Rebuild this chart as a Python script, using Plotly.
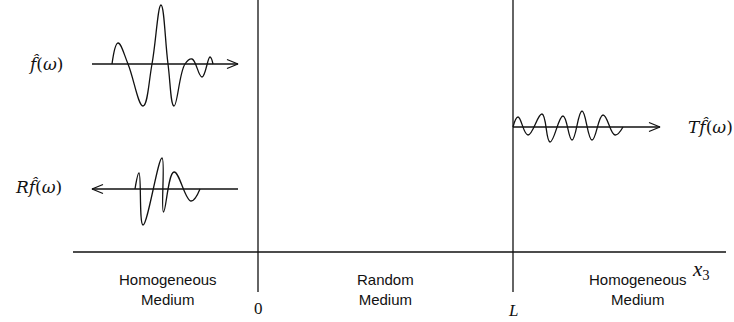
import plotly.graph_objects as go

# Pulse shapes: offset along the propagation line (px) and signed amplitude (px, up = +)
incident_t = [0, 6, 16, 31, 40, 49, 56, 62, 73, 80, 90, 98, 101]
incident_a = [0, 21, 0, -42, 0, 59, 0, -42, 0, 5, -13, 7, 0]

reflected_t = [0, 4, 8, 27, 28.5, 39, 56, 65]
reflected_a = [0, 16, -36, 31, -23, 17, -12, 0]

transmitted_t = [0, 5, 15, 29, 37, 50, 59, 69, 79, 90, 102, 110]
transmitted_a = [0, 10, -8, 13, -15, 11, -13, 16, -13, 12, -8, 0]

region_names = ["Homogeneous<br>Medium", "Random<br>Medium", "Homogeneous<br>Medium"]
interface_labels = ["0", "<i>L</i>"]
signal_labels = ["<i>f̂</i>(<i>ω</i>)", "<i>Rf̂</i>(<i>ω</i>)", "<i>Tf̂</i>(<i>ω</i>)"]
axis_label = "<i>x</i><sub>3</sub>"

# ---- layout geometry (pixel-like canvas units) ----
W, H = 734, 322
INK = "#111111"
LW = 1.3
AXIS_Y, AXIS_X0, AXIS_X1 = 252, 73, 726
INTERFACE_X = [258, 513]
INTERFACE_BOTTOM = 292
HEAD_LEN, HEAD_HALF = 11, 4.5

# (pulse start x, baseline y, arrow tail x, arrow tip x)
rays = [
    (112, 64, 92, 238),
    (135, 189, 238, 92),
    (513, 127, 513, 660),
]
pulses = [(incident_t, incident_a), (reflected_t, reflected_a), (transmitted_t, transmitted_a)]
signal_pos = [(45, 64), (38, 187), (710, 127)]
region_x = [168, 385, 638]
region_y = 289
interface_label_y = [308, 310]

SERIF = "Liberation Serif"
MATH = "DejaVu Serif"
SANS = "Liberation Sans"


def ink_line(xs, ys, **extra):
    return go.Scatter(x=xs, y=ys, mode="lines", hoverinfo="skip",
                      line=dict(color=INK, width=LW, **extra))


fig = go.Figure()

# propagation axis and the two interfaces
fig.add_trace(ink_line([AXIS_X0, AXIS_X1], [AXIS_Y, AXIS_Y]))
for xi in INTERFACE_X:
    fig.add_trace(ink_line([xi, xi], [0, INTERFACE_BOTTOM]))

for (x0, base, tail, tip), (ts, amps) in zip(rays, pulses):
    # ray with an open chevron head at its tip
    direction = 1 if tip > tail else -1
    back = tip - direction * HEAD_LEN
    fig.add_trace(ink_line([tail, tip], [base, base]))
    fig.add_trace(ink_line([back, tip, back],
                           [base - HEAD_HALF, base, base + HEAD_HALF]))
    # pulse riding on the ray
    fig.add_trace(ink_line([x0 + t for t in ts], [base - a for a in amps],
                           shape="spline", smoothing=1.2))

annotations = []
for txt, (sx, sy) in zip(signal_labels, signal_pos):
    annotations.append(dict(x=sx, y=sy, xref="x", yref="y", text=txt, showarrow=False,
                            font=dict(family=MATH, size=17, color=INK)))

for txt, rx in zip(region_names, region_x):
    annotations.append(dict(x=rx, y=region_y, xref="x", yref="y", text=txt,
                            showarrow=False, align="center",
                            font=dict(family=SANS, size=15, color=INK)))

for txt, xi, ly in zip(interface_labels, INTERFACE_X, interface_label_y):
    annotations.append(dict(x=xi, y=ly, xref="x", yref="y", text=txt, showarrow=False,
                            font=dict(family=SERIF, size=17, color=INK)))

annotations.append(dict(x=701, y=270, xref="x", yref="y", text=axis_label,
                        showarrow=False, font=dict(family=SERIF, size=21, color=INK)))

fig.update_layout(
    width=W, height=H,
    margin=dict(l=0, r=0, t=0, b=0),
    paper_bgcolor="white", plot_bgcolor="white",
    showlegend=False,
    xaxis=dict(range=[0, W], visible=False, fixedrange=True),
    yaxis=dict(range=[H, 0], visible=False, fixedrange=True),
    annotations=annotations,
)

fig.write_html("out.html")
